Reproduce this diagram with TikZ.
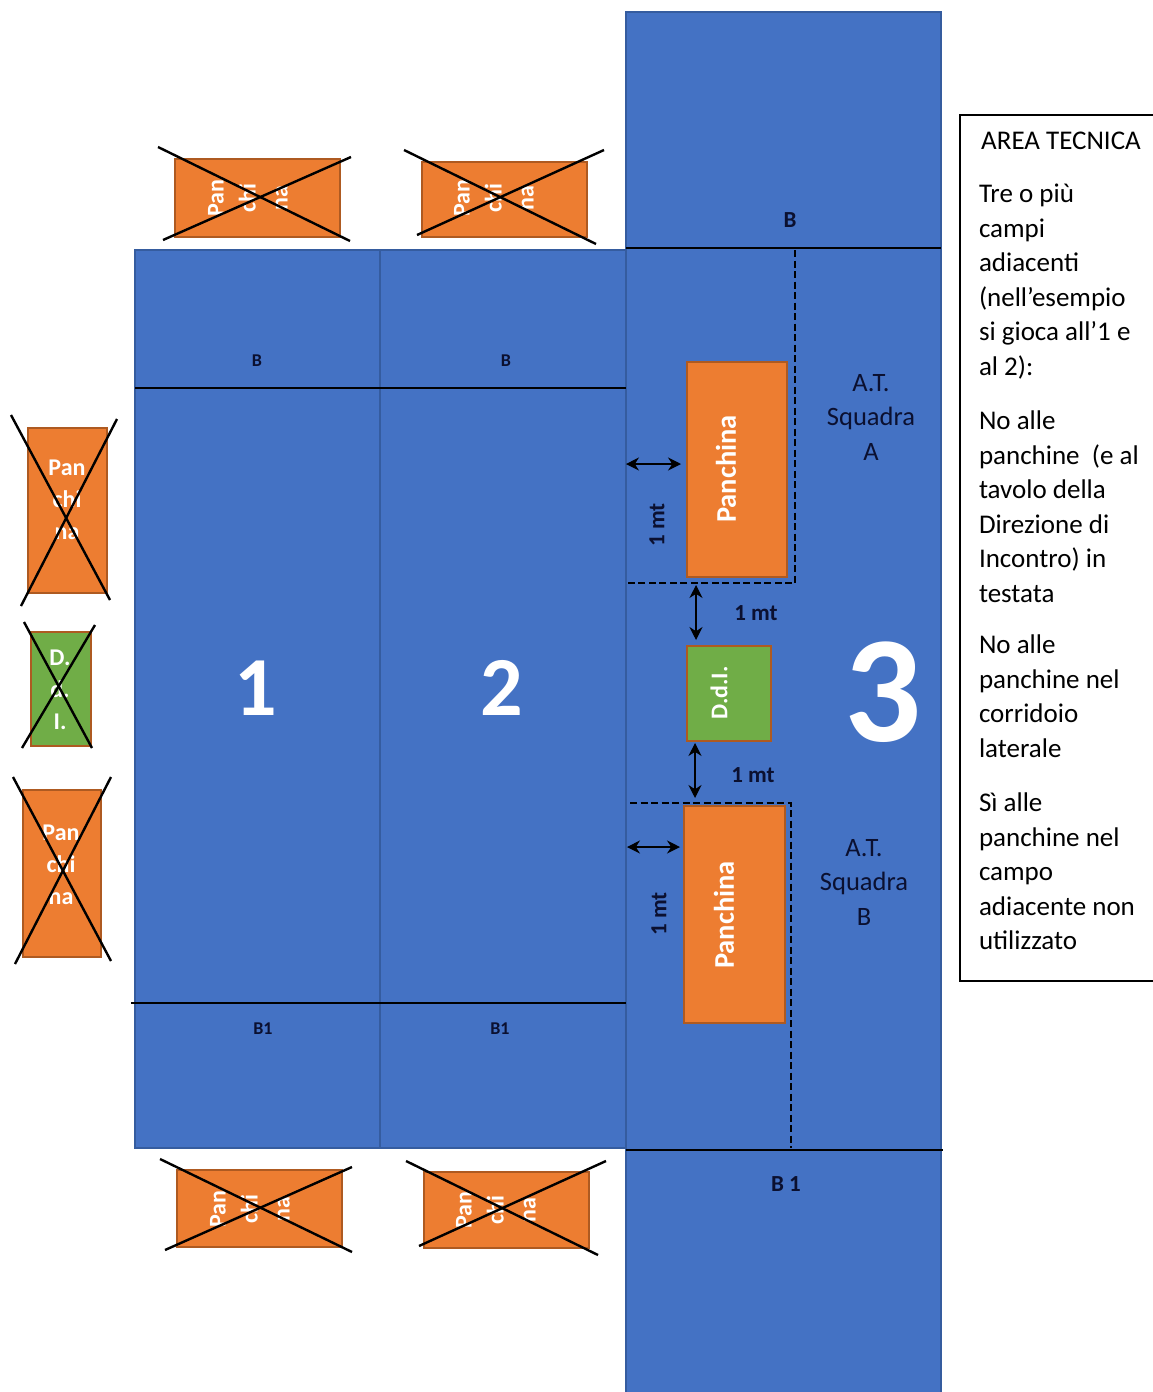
\documentclass[tikz,border=0pt]{standalone}
\usepackage{fontspec}
\setmainfont{Carlito}
\usetikzlibrary{arrows.meta}
\definecolor{fieldblue}{HTML}{4472C4}
\definecolor{fieldedge}{HTML}{2F528F}
\definecolor{benchorange}{HTML}{ED7D31}
\definecolor{benchedge}{HTML}{AE5A21}
\definecolor{tablegreen}{HTML}{70AD47}
\definecolor{inktext}{HTML}{0B1030}
\newcommand\fs[2]{\fontsize{#1}{#2}\selectfont}
\tikzset{
  fieldbox/.style={fill=fieldblue,draw=fieldedge!70!fieldblue,line width=1.2pt},
  benchbox/.style={fill=benchorange,draw=benchedge,line width=1.3pt},
  tablebox/.style={fill=tablegreen,draw=benchedge,line width=1.4pt},
  notebox/.style={fill=white,draw=black,line width=2pt},
  markline/.style={draw=black,line width=2pt},
  dashline/.style={draw=black,line width=1.8pt,dash pattern=on 7pt off 3.5pt},
  crossline/.style={draw=black,line width=2.4pt},
  gap/.style={draw=black,line width=1.2pt,{Stealth[length=13pt,width=13pt]}-{Stealth[length=13pt,width=13pt]}},
  txt/.style={inner sep=0pt,outer sep=0pt,align=center},
  benchtxt/.style={txt,text=white,font=\fs{24}{32}\bfseries},
  smalllab/.style={txt,text=inktext,font=\fs{18}{20}\bfseries},
  biglab/.style={txt,text=inktext,font=\fs{23}{26}\bfseries},
  attxt/.style={txt,text=inktext,font=\fs{26.5}{34.5}},
  numlab/.style={txt,text=white,font=\bfseries},
  para/.style={inner sep=0pt,outer sep=0pt,align=left,anchor=north west,text=black,font=\fs{27}{34.5}},
}
% name, style, x1, y1, x2, y2
\newcommand\bx[6]{%
  \pgfmathsetmacro\cxv{(#3+#5)/2}\pgfmathsetmacro\cyv{(#4+#6)/2}%
  \pgfmathsetmacro\wv{#5-#3}\pgfmathsetmacro\hv{#6-#4}%
  \node[#2,inner sep=0pt,outer sep=0pt,minimum width=\wv pt,minimum height=\hv pt] (#1) at (\cxv,\cyv) {};}
% name, x1,y1,x2,y2, x3,y3,x4,y4
\newcommand\xcross[9]{%
  \coordinate (#1a) at (#2,#3);\coordinate (#1b) at (#4,#5);
  \coordinate (#1c) at (#6,#7);\coordinate (#1d) at (#8,#9);
  \draw[crossline] (#1a) -- (#1b);\draw[crossline] (#1c) -- (#1d);}
\begin{document}
\begin{tikzpicture}[x=1pt,y=-1pt]
\useasboundingbox (0,0) rectangle (1153,1392);
% fields
\bx{fieldthree}{fieldbox}{626}{12}{941}{1400}
\bx{fieldone}{fieldbox}{135}{250}{380}{1148}
\bx{fieldtwo}{fieldbox}{380}{250}{626}{1148}
% goal / end lines
\coordinate (lineAl) at (135,388);\coordinate (lineAr) at (626,388);
\coordinate (lineBl) at (131,1003);\coordinate (lineBr) at (626,1003);
\coordinate (lineCl) at (626,248);\coordinate (lineCr) at (941,248);
\coordinate (lineDl) at (626,1150);\coordinate (lineDr) at (943,1150);
\draw[markline] (lineAl) -- (lineAr);
\draw[markline] (lineBl) -- (lineBr);
\draw[markline] (lineCl) -- (lineCr);
\draw[markline] (lineDl) -- (lineDr);
% technical area dashes
\coordinate (dashAa) at (795,250);\coordinate (dashAb) at (795,583);\coordinate (dashAc) at (627,583);
\coordinate (dashBa) at (630,803);\coordinate (dashBb) at (791,803);\coordinate (dashBc) at (791,1148);
\draw[dashline] (dashAa) -- (dashAb) -- (dashAc);
\draw[dashline] (dashBa) -- (dashBb) -- (dashBc);
% benches in field 3
\bx{benchA}{benchbox}{687}{362}{787}{577}
\bx{benchB}{benchbox}{684}{806}{785}{1023}
\bx{ddi}{tablebox}{687}{646}{771}{741}
\node[txt,rotate=90,text=white,font=\fs{28.5}{30}\bfseries] (benchAt) at (726,469) {Panchina};
\node[txt,rotate=90,text=white,font=\fs{28.5}{30}\bfseries] (benchBt) at (724,915) {Panchina};
\node[txt,rotate=90,text=white,font=\fs{24}{26}\bfseries] (ddit) at (719,693) {D.d.I.};
% distance arrows
\coordinate (arAa) at (626,464);\coordinate (arAb) at (681,464);
\coordinate (arBa) at (696,585);\coordinate (arBb) at (696,640);
\coordinate (arCa) at (695,743);\coordinate (arCb) at (695,798);
\coordinate (arDa) at (627,847);\coordinate (arDb) at (680,847);
\draw[gap] (arAa) -- (arAb);
\draw[gap] (arBa) -- (arBb);
\draw[gap] (arCa) -- (arCb);
\draw[gap] (arDa) -- (arDb);
\node[biglab,rotate=90] (mtA) at (657,525) {1 mt};
\node[biglab] (mtB) at (756,613) {1 mt};
\node[biglab] (mtC) at (753,775) {1 mt};
\node[biglab,rotate=90] (mtD) at (659,914) {1 mt};
% labels on fields
\node[smalllab] (lbA) at (257,361) {B};
\node[smalllab] (lbB) at (506,361) {B};
\node[smalllab] (lbC) at (263,1029) {B1};
\node[smalllab] (lbD) at (500,1029) {B1};
\node[biglab] (lbE) at (790,220) {B};
\node[biglab] (lbF) at (786,1184) {B 1};
\node[numlab,font=\fs{84}{88}\bfseries] (numone) at (256,688) {1};
\node[numlab,font=\fs{84}{88}\bfseries] (numtwo) at (502,688) {2};
\node[numlab,font=\fs{152}{156}\bfseries] (numthree) at (883,692) {3};
\node[attxt] (atA) at (871,417) {A.T.\\Squadra\\A};
\node[attxt] (atB) at (864,882) {A.T.\\Squadra\\B};
% crossed benches: top
\bx{topone}{benchbox}{175}{159}{340}{237}
\node[benchtxt,rotate=90] (toponet) at (248,198) {Pan\\chi\\na};
\xcross{xa}{158}{147}{350}{241}{163}{240}{351}{157}
\bx{toptwo}{benchbox}{422}{162}{587}{237}
\node[benchtxt,rotate=90] (toptwot) at (494,198) {Pan\\chi\\na};
\xcross{xb}{404}{150}{596}{244}{417}{235}{604}{150}
% crossed benches: bottom
\bx{botone}{benchbox}{177}{1170}{342}{1247}
\node[benchtxt,rotate=90] (botonet) at (250,1209) {Pan\\chi\\na};
\xcross{xc}{160}{1159}{352}{1252}{165}{1250}{352}{1167}
\bx{bottwo}{benchbox}{424}{1172}{589}{1248}
\node[benchtxt,rotate=90] (bottwot) at (496,1210) {Pan\\chi\\na};
\xcross{xd}{406}{1161}{598}{1255}{419}{1246}{606}{1161}
% crossed benches: left
\bx{leftone}{benchbox}{28}{428}{107}{593}
\node[benchtxt] (leftonet) at (67,500) {Pan\\chi\\na};
\xcross{xe}{11}{415}{110}{600}{21}{606}{117}{419}
\bx{lefttable}{tablebox}{31}{632}{91}{746}
\node[benchtxt] (lefttablet) at (60,690) {D.\\d.\\I.};
\xcross{xf}{24}{622}{92}{748}{22}{748}{95}{625}
\bx{lefttwo}{benchbox}{23}{790}{101}{957}
\node[benchtxt] (lefttwot) at (61,865) {Pan\\chi\\na};
\xcross{xg}{13}{777}{111}{961}{15}{964}{111}{777}
% note box
\bx{note}{notebox}{960}{115}{1160}{981}
\node[txt,font=\fs{27}{30}] (notetitle) at (1061,141) {AREA TECNICA};
\node[para] (noteA) at (979,184) {Tre o più\\campi\\adiacenti\\(nell’esempio\\si gioca all’1 e\\al 2):};
\node[para] (noteB) at (979,411) {No alle\\panchine\ \ (e al\\tavolo della\\Direzione di\\Incontro) in\\testata};
\node[para] (noteC) at (979,635) {No alle\\panchine nel\\corridoio\\laterale};
\node[para] (noteD) at (979,793) {Sì alle\\panchine nel\\campo\\adiacente non\\utilizzato};
\end{tikzpicture}
\end{document}
